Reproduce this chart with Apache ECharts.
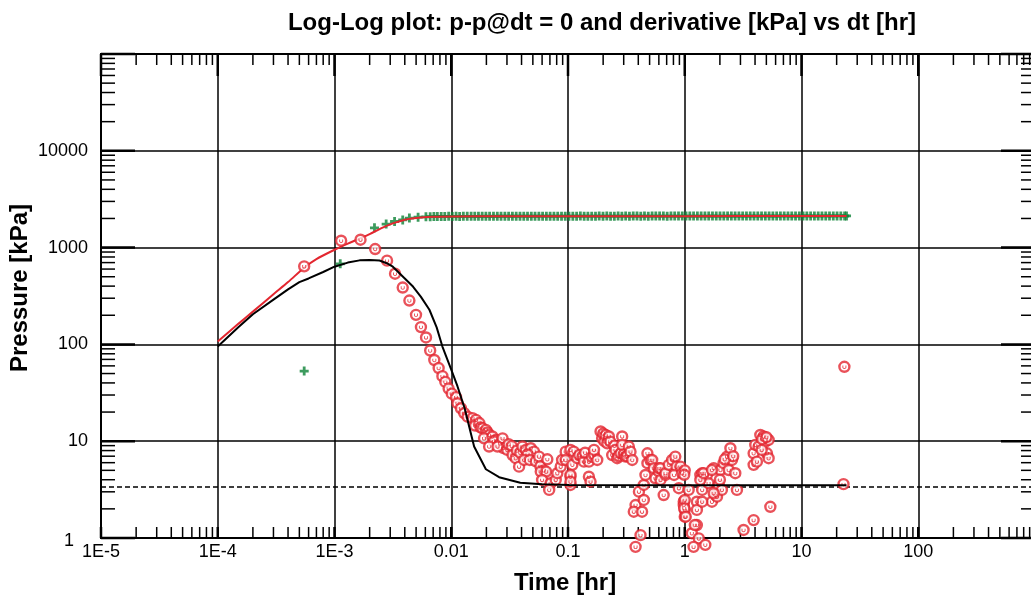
<!DOCTYPE html>
<html><head><meta charset="utf-8">
<script src="https://cdn.jsdelivr.net/npm/echarts@6/dist/echarts.min.js"></script>
<style>html,body{margin:0;padding:0;background:#fff}#c{width:1031px;height:602px}</style>
</head><body><div id="c"></div>
<script>
// ---------- tick labels ----------
const xTickLabels = ['1E-5','1E-4','1E-3','0.01','0.1','1','10','100',''];   // exponents -5..3
const yTickLabels = ['1','10','100','1000','10000',''];                        // exponents 0..5

// ---------- measured pressure change (green +) ----------
const pressureTime = [
  5.5e-4, 1.12e-3, 2.2e-3, 2.77e-3, 3.27e-3, 3.84e-3, 4.38e-3, 5.2e-3, 6.07e-3, 6.6e-3,
  0.0071, 0.0076, 0.0082, 0.0088, 0.0095, 0.0102, 0.011, 0.0118, 0.0127, 0.0137, 0.0148, 0.0159, 0.0171, 0.0184, 0.0198,
  0.0213, 0.023, 0.0248, 0.0267, 0.0288, 0.031, 0.0334, 0.036, 0.0388, 0.0418, 0.045, 0.0485, 0.0522, 0.0563, 0.0606,
  0.0653, 0.0703, 0.0758, 0.0816, 0.088, 0.0947, 0.102, 0.11, 0.1185, 0.1276, 0.1375, 0.148, 0.1596, 0.172, 0.185,
  0.1995, 0.215, 0.2315, 0.2494, 0.2687, 0.2894, 0.3118, 0.336, 0.362, 0.39, 0.42, 0.452, 0.487, 0.525, 0.565,
  0.609, 0.656, 0.707, 0.762, 0.82, 0.884, 0.952, 1.026, 1.105, 1.19, 1.283, 1.382, 1.489, 1.604, 1.728,
  1.861, 2.005, 2.16, 2.327, 2.507, 2.7, 2.91, 3.135, 3.377, 3.638, 3.919, 4.222, 4.548, 4.9, 5.279,
  5.687, 6.126, 6.6, 7.11, 7.66, 8.25, 8.89, 9.58, 10.32, 11.11, 11.97, 12.9, 13.9, 14.97, 16.13,
  17.37, 18.72, 20.16, 21.72, 23.4, 24.3
];
const pressureValue = [
  53, 680, 1600, 1750, 1860, 1930, 2020, 2060, 2080, 2085,
  2090, 2095, 2098, 2100, 2102, 2100, 2104, 2101, 2103, 2105, 2102, 2106, 2104, 2107, 2105,
  2108, 2106, 2109, 2107, 2110, 2108, 2111, 2109, 2112, 2110, 2108, 2111, 2109, 2112, 2110,
  2113, 2111, 2109, 2112, 2114, 2111, 2113, 2110, 2112, 2115, 2113, 2111, 2114, 2112, 2115,
  2113, 2116, 2114, 2112, 2115, 2113, 2116, 2114, 2117, 2115, 2113, 2116, 2114, 2117, 2115,
  2118, 2116, 2114, 2117, 2115, 2118, 2116, 2119, 2117, 2115, 2118, 2116, 2119, 2117, 2120,
  2118, 2116, 2119, 2117, 2120, 2118, 2121, 2119, 2117, 2120, 2118, 2121, 2119, 2122, 2120,
  2118, 2121, 2119, 2122, 2120, 2118, 2121, 2119, 2122, 2120, 2123, 2121, 2119, 2122, 2120,
  2123, 2121, 2124, 2122, 2120, 2122
];

// ---------- measured derivative (red circles) [time hr, kPa] ----------
const derivativePoints = [
  [5.5e-4,640],[1.14e-3,1178],[1.67e-3,1207],[2.23e-3,967],[2.82e-3,733],[3.3e-3,537],[3.84e-3,387],[4.38e-3,284],
  [4.99e-3,202],[5.5e-3,151],[6.08e-3,118],[6.6e-3,86.5],[7.16e-3,69],[7.8e-3,57],[8.4e-3,47],[8.9e-3,41],[9.5e-3,35],
  [0.0101,31],[0.011,28.5],[0.0113,24.7],[0.0121,21.9],[0.0129,19.5],[0.0138,17.9],[0.0152,17.3],[0.0163,16.6],
  [0.016,14.5],[0.0174,15.4],[0.0178,13.9],[0.0185,13.6],[0.0198,13.1],[0.0205,12.3],[0.0211,11.6],[0.0191,10.7],
  [0.0225,11.2],[0.0241,10.3],[0.0232,10.0],[0.0262,9.5],[0.0275,10.7],[0.028,8.5],[0.0211,8.8],[0.0249,8.8],
  [0.0302,8.13],[0.031,9.3],[0.033,8.9],[0.0335,7.2],[0.0357,6.67],[0.0365,8.0],[0.039,7.6],[0.0381,5.46],
  [0.0407,8.8],[0.0435,8.13],[0.048,8.47],[0.0512,7.8],[0.045,7.3],[0.042,6.4],[0.047,6.4],[0.053,6.2],
  [0.0565,6.93],[0.058,5.5],[0.062,5.0],[0.0665,6.5],[0.0584,4.85],[0.065,4.85],[0.06,3.98],[0.071,3.68],
  [0.069,3.14],[0.0785,3.98],[0.081,4.67],[0.0866,5.46],[0.089,6.4],[0.0955,7.8],[0.0955,6.4],[0.105,8.13],
  [0.105,4.3],[0.105,3.53],[0.112,7.8],[0.109,5.7],[0.105,4.48],[0.105,3.82],[0.12,6.67],[0.125,7.2],
  [0.133,6.93],[0.137,6.15],[0.14,7.6],[0.151,4.3],[0.156,3.82],[0.151,6.15],[0.16,6.9],[0.167,7.2],[0.167,8.13],
  [0.178,6.4],[0.19,12.6],[0.196,10.7],[0.2,12.0],[0.205,10.0],[0.21,11.6],[0.224,11.2],[0.217,9.5],[0.23,9.9],
  [0.239,7.2],[0.25,9.0],[0.255,8.13],[0.264,6.67],[0.27,7.0],[0.282,7.5],[0.291,11.2],[0.291,9.16],[0.3,7.3],
  [0.311,6.93],[0.32,7.0],[0.332,8.8],[0.343,7.8],[0.355,6.4],
  [0.405,3.01],[0.379,2.19],[0.366,1.87],[0.431,1.87],[0.446,2.47],[0.418,1.07],[0.379,0.81],[0.446,3.53],
  [0.479,7.5],[0.479,5.92],[0.461,4.48],[0.508,6.4],[0.526,6.4],[0.543,5.26],[0.561,4.14],[0.6,4.85],[0.6,5.26],
  [0.62,3.98],[0.62,5.26],[0.684,4.48],[0.684,4.67],[0.73,5.7],[0.66,2.78],[0.78,6.4],[0.83,6.93],[0.85,5.46],
  [0.81,4.48],[0.89,3.27],[0.92,5.46],[0.95,4.67],[0.98,2.37],[0.98,2.19],[1.0,1.95],[1.0,1.66],[1.0,2.47],
  [0.99,2.03],[1.02,1.66],[1.0,5.0],[0.99,4.5],
  [1.08,3.14],[1.27,2.37],[1.27,1.95],[1.27,1.36],[1.15,1.12],[1.32,0.99],[1.19,0.81],[1.5,0.85],[1.41,3.14],
  [1.36,4.48],[1.41,4.67],[1.55,4.48],[1.6,3.68],[1.71,2.37],[1.77,5.26],[1.83,2.78],[1.89,2.67],[1.95,3.53],
  [2.02,5.04],[2.08,3.14],[2.15,5.92],[2.3,6.93],[2.38,5.04],[2.46,8.47],[2.54,6.4],[2.71,4.67],[2.8,3.14],
  [3.19,1.21],[3.89,7.5],[3.89,5.7],[3.89,1.53],[4.02,9.16],[4.29,8.8],[4.15,6.15],[4.44,11.6],[4.73,11.2],
  [4.9,9.9],[5.06,7.5],[5.23,6.67],[5.41,2.1],[4.56,8.13],[5.23,10.3],[1.36,3.98],[1.45,4.67],[1.71,5.04],
  [1.77,2.9],[1.22,1.36],[1.41,2.37],[2.2,6.5],[2.6,7.0],[2.0,4.0],[4.6,10.5],[5.0,11.0],
  [23.3,58.7],[22.9,3.6]
];

// ---------- model curves ----------
const pressureModelTime  = [1e-4, 1.5e-4, 2e-4, 3e-4, 4e-4, 5.5e-4, 7e-4, 1e-3, 1.3e-3, 1.64e-3, 2e-3, 2.5e-3, 3e-3, 3.5e-3, 4e-3, 4.6e-3, 5.5e-3, 7e-3, 0.01, 0.03, 0.1, 1, 10, 24.3];
const pressureModelValue = [107, 163, 218, 330, 440, 620, 760, 950, 1100, 1240, 1380, 1580, 1740, 1850, 1940, 2000, 2050, 2085, 2100, 2110, 2112, 2114, 2116, 2116];

const derivModelTime  = [1e-4, 1.5e-4, 2e-4, 3e-4, 4e-4, 5e-4, 6e-4, 8e-4, 1e-3, 1.3e-3, 1.64e-3, 2e-3, 2.43e-3, 2.8e-3, 3.16e-3, 4e-3, 4.7e-3, 5.5e-3, 6.5e-3, 7.5e-3, 8.4e-3, 0.01, 0.0113, 0.013, 0.0157, 0.0198, 0.0257, 0.039, 0.06, 0.102, 1, 24.3];
const derivModelValue = [95, 150, 205, 290, 370, 440, 480, 560, 635, 700, 738, 745, 735, 690, 635, 480, 396, 310, 228, 150, 95, 55, 37, 22, 8.8, 5.13, 4.25, 3.73, 3.6, 3.53, 3.5, 3.5];

const dashedLevel = 3.4;

// ---------- helpers ----------
const zip = (a, b) => a.map((v, i) => [v, b[i]]);
const expOf = v => Math.round(Math.log10(v));

const xTicks = [];
for (let e = -5; e <= 2; e++) for (let m = 1; m <= 9; m++) xTicks.push([m * Math.pow(10, e), 10, m === 1 ? 1 : 0]);
xTicks.push([1000, 10, 1]);
const yTicks = [];
for (let e = 0; e <= 4; e++) for (let m = 1; m <= 9; m++) yTicks.push([1e-5, m * Math.pow(10, e), m === 1 ? 1 : 0]);
yTicks.push([1e-5, 100000, 1]);

const RED = '#e3262f', GREEN = '#0d8236';
const FONT = 'Liberation Sans, Arial, sans-serif';

const plusSymbol = 'path://M3.1,0 L5.9,0 L5.9,3.1 L9,3.1 L9,5.9 L5.9,5.9 L5.9,9 L3.1,9 L3.1,5.9 L0,5.9 L0,3.1 L3.1,3.1 Z';
const smileSymbol = 'path://M0,0 L1.4,0 L1.4,2.2 Q3,3.6 4.6,2.2 L4.6,0 L6,0 L6,2.6 Q3,5.4 0,2.6 Z';

function line(x1, y1, x2, y2, w) {
  return { type: 'line', shape: { x1, y1, x2, y2 }, style: { stroke: '#000', lineWidth: w } };
}

const chart = echarts.init(document.getElementById('c'), null, { renderer: 'canvas' });
chart.setOption({
  animation: false,
  backgroundColor: '#fff',
  title: {
    text: 'Log-Log plot: p-p@dt = 0 and derivative [kPa] vs dt [hr]',
    left: 597, top: 6, textAlign: 'center',
    textStyle: { fontFamily: FONT, fontSize: 24, fontWeight: 'bold', color: '#000' }
  },
  graphic: [
    { type: 'text', x: 565, y: 583, silent: true,
      style: { text: 'Time [hr]', fontFamily: FONT, fontSize: 24, fontWeight: 'bold', fill: '#000', align: 'center', verticalAlign: 'middle' } },
    { type: 'text', x: 20, y: 288, rotation: Math.PI / 2, silent: true,
      style: { text: 'Pressure [kPa]', fontFamily: FONT, fontSize: 24, fontWeight: 'bold', fill: '#000', align: 'center', verticalAlign: 'middle' } }
  ],
  grid: { left: 101, top: 54, width: 934, height: 484, outerBoundsMode: 'none', containLabel: false,
          show: true, borderColor: '#000', borderWidth: 2, backgroundColor: 'transparent' },
  xAxis: {
    type: 'log', logBase: 10, min: 1e-5, max: 1000,
    axisLine: { show: true, lineStyle: { color: '#000', width: 2 } },
    axisTick: { show: false },
    axisLabel: { fontFamily: FONT, fontSize: 18, color: '#000', margin: 5, formatter: v => xTickLabels[expOf(v) + 5] },
    splitLine: { show: true, lineStyle: { color: '#000', width: 1.5 } }
  },
  yAxis: {
    type: 'log', logBase: 10, min: 1, max: 100000,
    axisLine: { show: true, lineStyle: { color: '#000', width: 2 } },
    axisTick: { show: false },
    axisLabel: {
      fontFamily: FONT, fontSize: 18, color: '#000', margin: 13,
      formatter: v => { const e = expOf(v); return e === 0 ? '{one|' + yTickLabels[0] + '}' : yTickLabels[e]; },
      rich: { one: { fontFamily: FONT, fontSize: 18, color: '#000', padding: [6, 14, 0, 0] } }
    },
    splitLine: { show: true, lineStyle: { color: '#000', width: 1.5 } }
  },
  series: [
    {
      type: 'custom', silent: true, data: xTicks, encode: { x: 0, y: 1 }, z: 1,
      renderItem: (params, api) => {
        const cs = params.coordSys;
        const px = api.coord([api.value(0), 10])[0];
        const major = api.value(2) === 1;
        const lenTop = major ? 22 : 11, lenBot = 11, w = major ? 2.5 : 1.5;
        return { type: 'group', children: [
          line(px, cs.y + cs.height, px, cs.y + cs.height - lenBot, w),
          line(px, cs.y, px, cs.y + lenTop, w)
        ]};
      }
    },
    {
      type: 'custom', silent: true, data: yTicks, encode: { x: 0, y: 1 }, z: 1,
      renderItem: (params, api) => {
        const cs = params.coordSys;
        const py = api.coord([1e-5, api.value(1)])[1];
        const major = api.value(2) === 1;
        const len = major ? 34 : 14, w = major ? 2.5 : 1.5;
        return { type: 'group', children: [
          line(cs.x, py, cs.x + len, py, w),
          line(cs.x + cs.width, py, cs.x + cs.width - len, py, w)
        ]};
      }
    },
    {
      name: 'p-p@dt=0', type: 'scatter', data: zip(pressureTime, pressureValue), z: 3,
      symbol: plusSymbol, symbolSize: 9, itemStyle: { color: GREEN }, clip: false, silent: true
    },
    {
      name: 'pressure model', type: 'line', data: zip(pressureModelTime, pressureModelValue), z: 4,
      showSymbol: false, smooth: 0.3, lineStyle: { color: RED, width: 2 }, silent: true
    },
    {
      name: 'derivative', type: 'scatter', data: derivativePoints, z: 5,
      symbol: 'circle', symbolSize: 10,
      itemStyle: { color: '#fff', borderColor: RED, borderWidth: 2.4 }, clip: false, silent: true
    },
    {
      name: 'derivative glyph', type: 'scatter', data: derivativePoints, z: 5,
      symbol: smileSymbol, symbolSize: [4, 3.5], symbolOffset: [0, 0.5],
      itemStyle: { color: RED }, clip: false, silent: true
    },
    {
      name: 'derivative model', type: 'line', data: zip(derivModelTime, derivModelValue), z: 6,
      showSymbol: false, smooth: false, lineStyle: { color: '#000', width: 2 }, silent: true,
      markLine: {
        silent: true, symbol: ['none', 'none'], label: { show: false },
        lineStyle: { color: '#000', width: 1.5, type: [5, 3] },
        data: [{ yAxis: dashedLevel }]
      }
    }
  ]
});
</script>
</body></html>
